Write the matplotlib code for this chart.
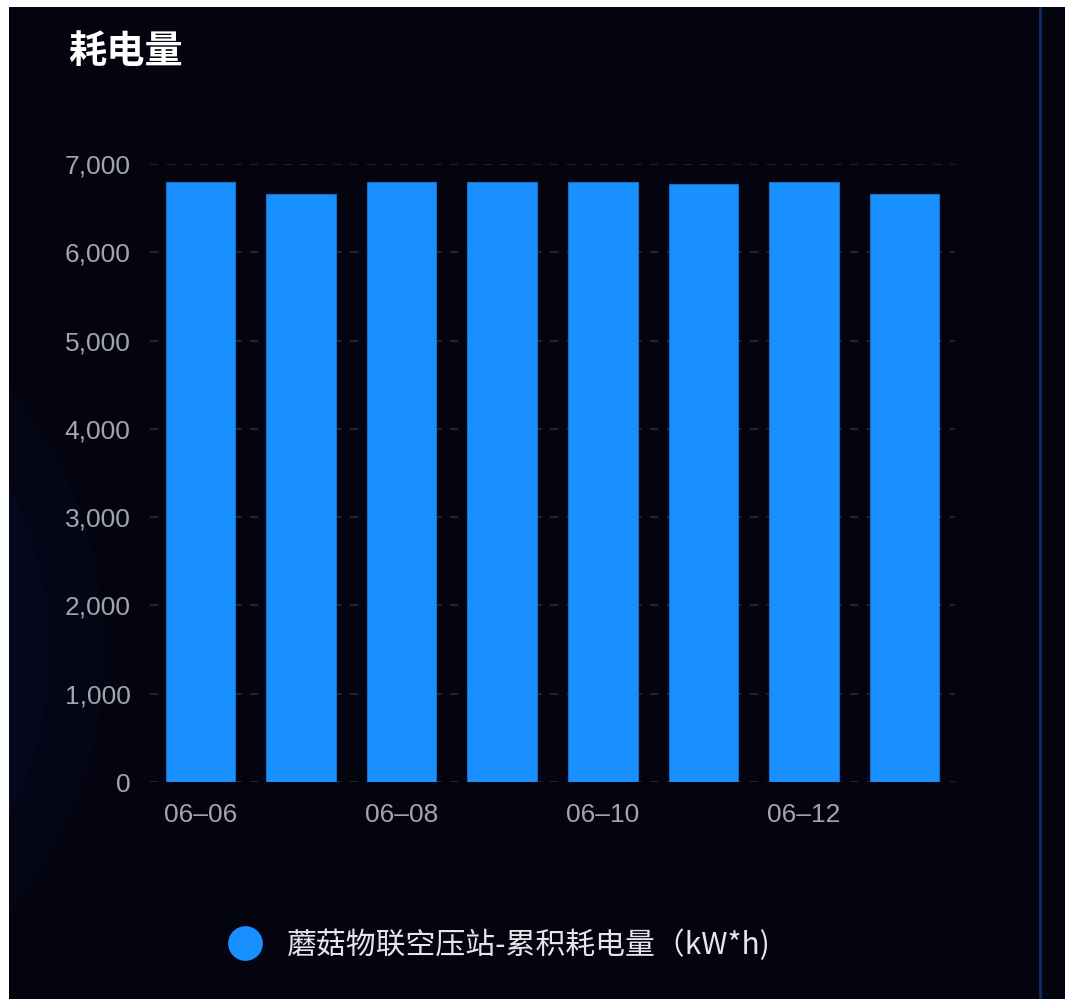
import matplotlib
matplotlib.use("Agg")
import matplotlib.pyplot as plt
from matplotlib.patches import Circle, Rectangle
from matplotlib.lines import Line2D

# ---- data ----
categories = ["06–06", "06–07", "06–08", "06–09", "06–10", "06–11", "06–12", "06–13"]
values = [6795, 6660, 6795, 6800, 6795, 6775, 6795, 6660]
yticks = [0, 1000, 2000, 3000, 4000, 5000, 6000, 7000]
ytick_labels = ["0", "1,000", "2,000", "3,000", "4,000", "5,000", "6,000", "7,000"]
xtick_shown = ["06–06", "06–08", "06–10", "06–12"]
title = "耗电量"
series_name = "蘑菇物联空压站-累积耗电量（kW*h)"

W, H = 1065, 999
BG = "#03040f"
BAR = "#1890ff"
TXT = "#a3a5ad"

fig = plt.figure(figsize=(W / 100, H / 100), dpi=100)
fig.patch.set_facecolor("white")

# dark panel (white margins at top and left)
fig.patches.append(Rectangle((9 / W, 0), 1 - 9 / W, 1 - 7 / H, transform=fig.transFigure,
                             facecolor=BG, edgecolor="none", zorder=-10))
# very faint radial glow on the left
for r, c in [(455, "#040515"), (430, "#040618"), (400, "#05071a")]:
    fig.patches.append(Circle((-350 / W, 1 - 650 / H), r / W, transform=fig.transFigure,
                              facecolor=c, edgecolor="none", zorder=-9))
# cover the white margin again
fig.patches.append(Rectangle((0, 0), 9 / W, 1, transform=fig.transFigure,
                             facecolor="white", edgecolor="none", zorder=-8))
# right vertical blue divider
fig.patches.append(Rectangle((1039 / W, 0), 3 / W, 1 - 7 / H, transform=fig.transFigure,
                             facecolor="#0c2b5e", edgecolor="none", zorder=-7))

ax = fig.add_axes([150 / W, (H - 782) / H, (955 - 150) / W, (782 - 164) / H])
ax.set_facecolor("none")

x = list(range(len(categories)))
bars = ax.bar(x, values, width=0.69, color=BAR, edgecolor="#1570c8", linewidth=0.8,
              label=series_name, zorder=3)

ax.set_xlim(-0.5, len(categories) - 0.5)
ax.set_ylim(0, 7000)
ax.set_yticks(yticks)
ax.set_yticklabels(ytick_labels)
ax.set_xticks([categories.index(c) for c in xtick_shown])
ax.set_xticklabels(xtick_shown)

for s in ax.spines.values():
    s.set_visible(False)
ax.tick_params(axis="both", length=0, colors=TXT, labelsize=19)
ax.tick_params(axis="y", pad=14)
ax.tick_params(axis="x", pad=15)
for lab in ax.get_xticklabels() + ax.get_yticklabels():
    lab.set_family(["Liberation Sans", "DejaVu Sans"])
    lab.set_color(TXT)

ax.yaxis.grid(True, color="#262a3c", linestyle=(0, (5, 5)), linewidth=1.2, zorder=0)
ax.set_axisbelow(True)

fig.text(68 / W, 1 - 52 / H, title, color="white", fontsize=27.5, fontweight="bold",
         family=["Noto Sans CJK SC", "DejaVu Sans"], va="center", ha="left")

handle = Line2D([], [], linestyle="none", marker="o", markersize=24,
                markerfacecolor=BAR, markeredgecolor=BAR)
leg = fig.legend([handle], [series_name], loc="center",
                 bbox_to_anchor=(500 / W, 1 - 945 / H), frameon=False,
                 handletextpad=0.9, handlelength=1.0,
                 prop={"family": ["Noto Sans CJK SC", "DejaVu Sans"], "size": 21.5})
for t in leg.get_texts():
    t.set_color("#e6e6ea")

fig.savefig("out.png", dpi=100, facecolor=fig.get_facecolor())
